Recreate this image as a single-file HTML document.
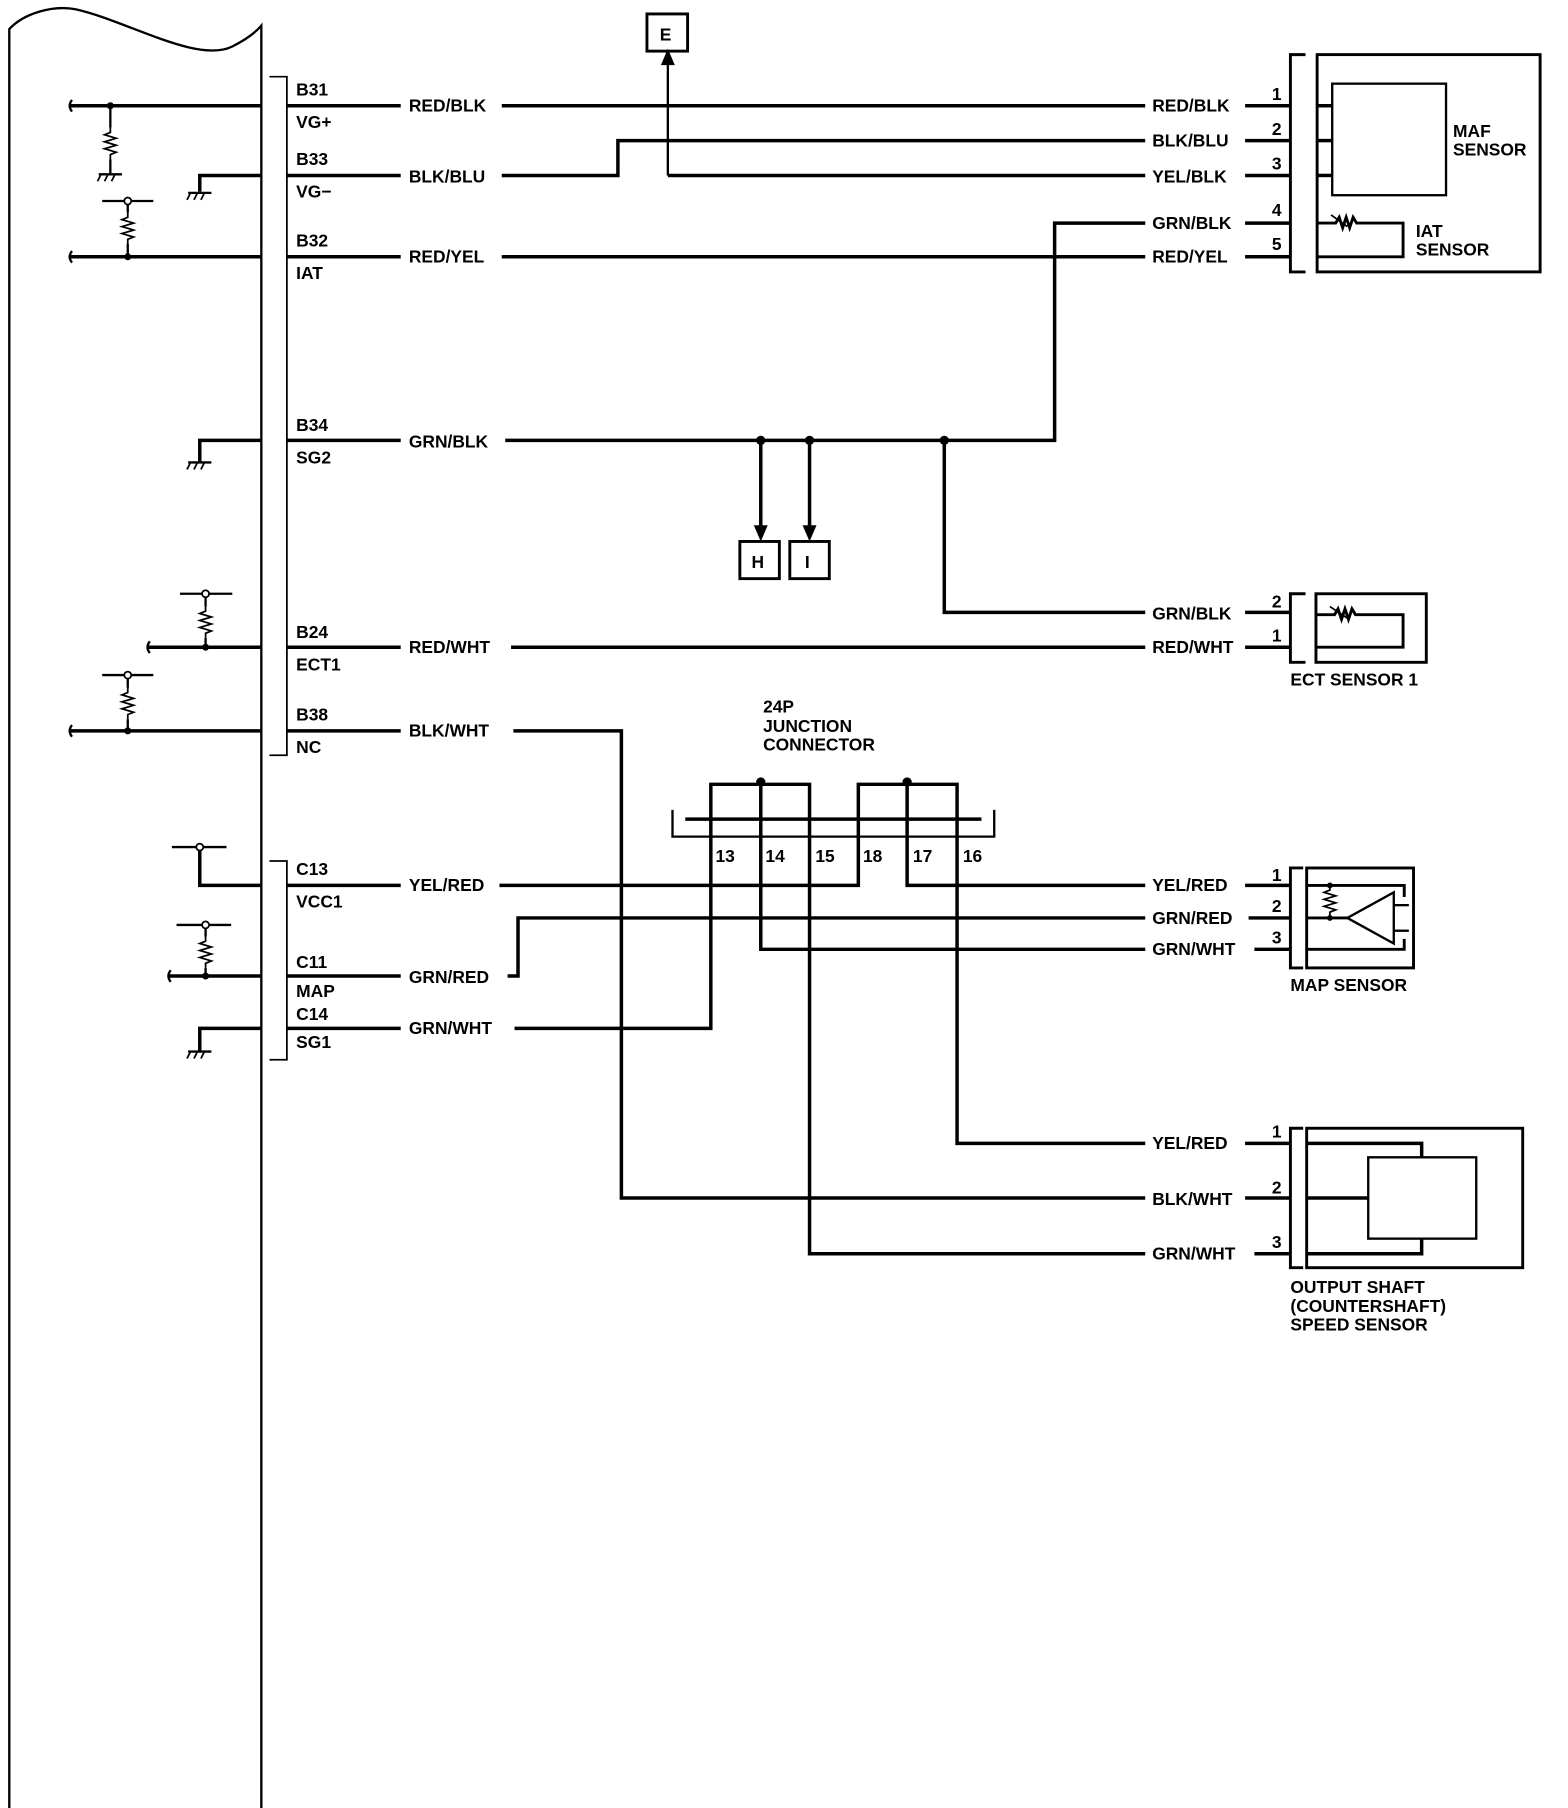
<!DOCTYPE html>
<html><head><meta charset="utf-8"><style>
html,body{margin:0;padding:0;background:#fff}
svg{display:block}
text{font-family:"Liberation Sans",Arial,sans-serif;font-size:15px;fill:#000;font-weight:bold}
.t{font-weight:normal}
</style></head><body>
<svg width="1568" height="1808" viewBox="0 0 1350 1556" preserveAspectRatio="none" xmlns="http://www.w3.org/2000/svg">
<defs>
<g id="gnd"><line x1="-10" y1="0" x2="10" y2="0" stroke="#000" stroke-width="2"/><line x1="-8" y1="0" x2="-11" y2="6" stroke="#000" stroke-width="1.5"/><line x1="-2" y1="0" x2="-5" y2="6" stroke="#000" stroke-width="1.5"/><line x1="4" y1="0" x2="1" y2="6" stroke="#000" stroke-width="1.5"/></g>
<g id="res"><polyline points="0,0 0,4 -5,6 5,9 -5,12 5,15 -5,18 5,21 0,23 0,27" fill="none" stroke="#000" stroke-width="1.5"/></g>
</defs>
<g fill="none" stroke="#000" stroke-width="2">
<path d="M8,1556 L8,25 C20,12 45,4 65,8 C110,18 170,55 200,40 C212,34 220,28 225,22 L225,1556"/>
<polyline points="232,66 247,66 247,650 232,650" stroke-width="1.5"/>
<polyline points="232,741 247,741 247,912 232,912" stroke-width="1.5"/>
</g>
<g fill="none" stroke="#000" stroke-width="3">
<line x1="60" y1="91" x2="225" y2="91"/>
<line x1="247" y1="91" x2="345" y2="91"/><line x1="432" y1="91" x2="986" y2="91"/><line x1="1072" y1="91" x2="1110" y2="91"/>
<polyline points="172,165 172,151 225,151"/>
<line x1="247" y1="151" x2="345" y2="151"/><polyline points="432,151 532,151 532,121 986,121"/><line x1="1072" y1="121" x2="1110" y2="121"/>
<line x1="575" y1="55" x2="575" y2="151" stroke-width="2"/><line x1="575" y1="151" x2="986" y2="151"/><line x1="1072" y1="151" x2="1110" y2="151"/>
<line x1="60" y1="221" x2="225" y2="221"/>
<line x1="247" y1="221" x2="345" y2="221"/><line x1="432" y1="221" x2="986" y2="221"/><line x1="1072" y1="221" x2="1110" y2="221"/>
<polyline points="172,398 172,379 225,379"/>
<line x1="247" y1="379" x2="345" y2="379"/><polyline points="435,379 908,379 908,192 986,192"/><line x1="1072" y1="192" x2="1110" y2="192"/>
<line x1="655" y1="379" x2="655" y2="455"/><line x1="697" y1="379" x2="697" y2="455"/>
<polyline points="813,379 813,527 986,527"/><line x1="1072" y1="527" x2="1110" y2="527"/>
<line x1="127" y1="557" x2="225" y2="557"/>
<line x1="247" y1="557" x2="345" y2="557"/><line x1="440" y1="557" x2="986" y2="557"/><line x1="1072" y1="557" x2="1110" y2="557"/>
<line x1="60" y1="629" x2="225" y2="629"/>
<line x1="247" y1="629" x2="345" y2="629"/><polyline points="442,629 535,629 535,1031 986,1031"/><line x1="1072" y1="1031" x2="1110" y2="1031"/>
<polyline points="172,729 172,762 225,762"/>
<line x1="247" y1="762" x2="345" y2="762"/><polyline points="430,762 739,762 739,705"/>
<polyline points="781,705 781,762 986,762"/><line x1="1072" y1="762" x2="1110" y2="762"/>
<polyline points="655,705 655,817 986,817"/><line x1="1080" y1="817" x2="1110" y2="817"/>
<line x1="145" y1="840" x2="225" y2="840"/>
<line x1="247" y1="840" x2="345" y2="840"/><polyline points="437,840 446,840 446,790 986,790"/><line x1="1075" y1="790" x2="1110" y2="790"/>
<polyline points="172,905 172,885 225,885"/>
<line x1="247" y1="885" x2="345" y2="885"/><polyline points="443,885 612,885 612,705"/>
<polyline points="824,705 824,984 986,984"/><line x1="1072" y1="984" x2="1110" y2="984"/>
<polyline points="697,705 697,1079 986,1079"/><line x1="1080" y1="1079" x2="1110" y2="1079"/>
<polyline points="612,705 612,675 697,675 697,705"/><line x1="655" y1="675" x2="655" y2="705"/>
<polyline points="739,705 739,675 824,675 824,705"/><line x1="781" y1="675" x2="781" y2="705"/>
<line x1="590" y1="705" x2="845" y2="705"/>
</g>
<g fill="none" stroke="#000" stroke-width="2">
<polyline points="579,697 579,720 856,720 856,697"/>
<line x1="95" y1="91" x2="95" y2="110"/><use href="#res" x="95" y="110"/><line x1="95" y1="137" x2="95" y2="150"/>
<line x1="88" y1="173" x2="132" y2="173"/><line x1="110" y1="173" x2="110" y2="183"/><use href="#res" x="110" y="183"/><line x1="110" y1="210" x2="110" y2="221"/>
<line x1="155" y1="511" x2="200" y2="511"/><line x1="177" y1="511" x2="177" y2="522"/><use href="#res" x="177" y="522"/><line x1="177" y1="549" x2="177" y2="557"/>
<line x1="88" y1="581" x2="132" y2="581"/><line x1="110" y1="581" x2="110" y2="592"/><use href="#res" x="110" y="592"/><line x1="110" y1="619" x2="110" y2="629"/>
<line x1="148" y1="729" x2="195" y2="729"/>
<line x1="152" y1="796" x2="199" y2="796"/><line x1="177" y1="796" x2="177" y2="806"/><use href="#res" x="177" y="806"/><line x1="177" y1="833" x2="177" y2="840"/>
<path d="M62,86 Q58,91 62,96" /><path d="M62,216 Q58,221 62,226"/><path d="M129,552 Q125,557 129,562"/><path d="M62,624 Q58,629 62,634"/><path d="M147,835 Q143,840 147,845"/>
<rect x="557" y="12" width="35" height="32" stroke-width="2.5"/>
<rect x="637" y="466" width="34" height="32" stroke-width="2.5"/>
<rect x="680" y="466" width="34" height="32" stroke-width="2.5"/>
<polyline points="1124,47 1111,47 1111,234 1124,234" stroke-width="2.5"/>
<rect x="1134" y="47" width="192" height="187" stroke-width="2.5"/>
<rect x="1147" y="72" width="98" height="96"/>
<line x1="1134" y1="91" x2="1147" y2="91" stroke-width="3"/><line x1="1134" y1="121" x2="1147" y2="121" stroke-width="3"/><line x1="1134" y1="151" x2="1147" y2="151" stroke-width="3"/>
<polyline points="1134,192 1150,192 1153,187 1156,196 1159,187 1162,196 1165,187 1168,192 1208,192 1208,221 1134,221" stroke-width="2.5"/>
<line x1="1146" y1="185" x2="1160" y2="195" stroke-width="1.5"/>
<polyline points="1124,511 1111,511 1111,570 1124,570" stroke-width="2.5"/>
<rect x="1133" y="511" width="95" height="59" stroke-width="2.5"/>
<polyline points="1133,529 1149,529 1152,524 1155,533 1158,524 1161,533 1164,524 1167,529 1208,529 1208,557 1133,557" stroke-width="2.5"/>
<line x1="1145" y1="522" x2="1160" y2="532" stroke-width="1.5"/>
<polyline points="1122,747 1111,747 1111,833 1122,833" stroke-width="2.5"/>
<rect x="1125" y="747" width="92" height="86" stroke-width="2.5"/>
<polyline points="1125,762 1209,762 1209,772" stroke-width="2.5"/>
<polyline points="1125,817 1209,817 1209,808" stroke-width="2.5"/>
<line x1="1125" y1="790" x2="1160" y2="790" stroke-width="2.5"/>
<polygon points="1160,790 1200,768 1200,812"/>
<line x1="1200" y1="779" x2="1213" y2="779"/><line x1="1200" y1="801" x2="1213" y2="801"/>
<use href="#res" x="1145" y="762"/>
<polyline points="1122,971 1111,971 1111,1091 1122,1091" stroke-width="2.5"/>
<rect x="1125" y="971" width="186" height="120" stroke-width="2.5"/>
<rect x="1178" y="996" width="93" height="70"/>
<polyline points="1125,984 1224,984 1224,996" stroke-width="3"/>
<line x1="1125" y1="1031" x2="1178" y2="1031" stroke-width="3"/>
<polyline points="1125,1079 1224,1079 1224,1066" stroke-width="3"/>
</g>
<use href="#gnd" x="95" y="150"/><use href="#gnd" x="172" y="166"/><use href="#gnd" x="172" y="398"/><use href="#gnd" x="172" y="905"/>
<polygon points="575,42 569,56 581,56" fill="#000"/>
<polygon points="655,466 649,452 661,452" fill="#000"/>
<polygon points="697,466 691,452 703,452" fill="#000"/>
<g fill="#000"><circle cx="655" cy="379" r="4"/><circle cx="697" cy="379" r="4"/><circle cx="813" cy="379" r="4"/><circle cx="655" cy="673" r="4"/><circle cx="781" cy="673" r="4"/>
<circle cx="95" cy="91" r="3"/><circle cx="110" cy="221" r="3"/><circle cx="177" cy="557" r="3"/><circle cx="110" cy="629" r="3"/><circle cx="177" cy="840" r="3"/>
<circle cx="1145" cy="762" r="2.5"/><circle cx="1145" cy="790" r="2.5"/></g>
<g fill="#fff" stroke="#000" stroke-width="1.5"><circle cx="110" cy="173" r="3"/><circle cx="177" cy="511" r="3"/><circle cx="110" cy="581" r="3"/><circle cx="172" cy="729" r="3"/><circle cx="177" cy="796" r="3"/></g>
<g class="t">
<text x="255" y="82">B31</text><text x="255" y="110">VG+</text>
<text x="255" y="142">B33</text><text x="255" y="170">VG−</text>
<text x="255" y="212">B32</text><text x="255" y="240">IAT</text>
<text x="255" y="371">B34</text><text x="255" y="399">SG2</text>
<text x="255" y="549">B24</text><text x="255" y="577">ECT1</text>
<text x="255" y="620">B38</text><text x="255" y="648">NC</text>
<text x="255" y="753">C13</text><text x="255" y="781">VCC1</text>
<text x="255" y="833">C11</text><text x="255" y="858">MAP</text>
<text x="255" y="878">C14</text><text x="255" y="902">SG1</text>
<text x="352" y="96">RED/BLK</text><text x="352" y="157">BLK/BLU</text><text x="352" y="226">RED/YEL</text><text x="352" y="385">GRN/BLK</text>
<text x="352" y="562">RED/WHT</text><text x="352" y="634">BLK/WHT</text><text x="352" y="767">YEL/RED</text><text x="352" y="846">GRN/RED</text><text x="352" y="890">GRN/WHT</text>
<text x="992" y="96">RED/BLK</text><text x="992" y="126">BLK/BLU</text><text x="992" y="157">YEL/BLK</text><text x="992" y="197">GRN/BLK</text><text x="992" y="226">RED/YEL</text>
<text x="992" y="533">GRN/BLK</text><text x="992" y="562">RED/WHT</text>
<text x="992" y="767">YEL/RED</text><text x="992" y="795">GRN/RED</text><text x="992" y="822">GRN/WHT</text>
<text x="992" y="989">YEL/RED</text><text x="992" y="1037">BLK/WHT</text><text x="992" y="1084">GRN/WHT</text>
<text x="1095" y="86">1</text><text x="1095" y="116">2</text><text x="1095" y="146">3</text><text x="1095" y="186">4</text><text x="1095" y="215">5</text>
<text x="1095" y="523">2</text><text x="1095" y="552">1</text>
<text x="1095" y="758">1</text><text x="1095" y="785">2</text><text x="1095" y="812">3</text>
<text x="1095" y="979">1</text><text x="1095" y="1027">2</text><text x="1095" y="1074">3</text>
<text x="1251" y="118">MAF</text><text x="1251" y="134">SENSOR</text>
<text x="1219" y="204">IAT</text><text x="1219" y="220">SENSOR</text>
<text x="1111" y="590">ECT SENSOR 1</text>
<text x="1111" y="853">MAP SENSOR</text>
<text x="1111" y="1113">OUTPUT SHAFT</text><text x="1111" y="1129">(COUNTERSHAFT)</text><text x="1111" y="1145">SPEED SENSOR</text>
<text x="657" y="613">24P</text><text x="657" y="630">JUNCTION</text><text x="657" y="646">CONNECTOR</text>
<text x="616" y="742">13</text><text x="659" y="742">14</text><text x="702" y="742">15</text><text x="743" y="742">18</text><text x="786" y="742">17</text><text x="829" y="742">16</text>
<text x="568" y="35">E</text><text x="647" y="489">H</text><text x="693" y="489">I</text>
</g>
</svg>
</body></html>
